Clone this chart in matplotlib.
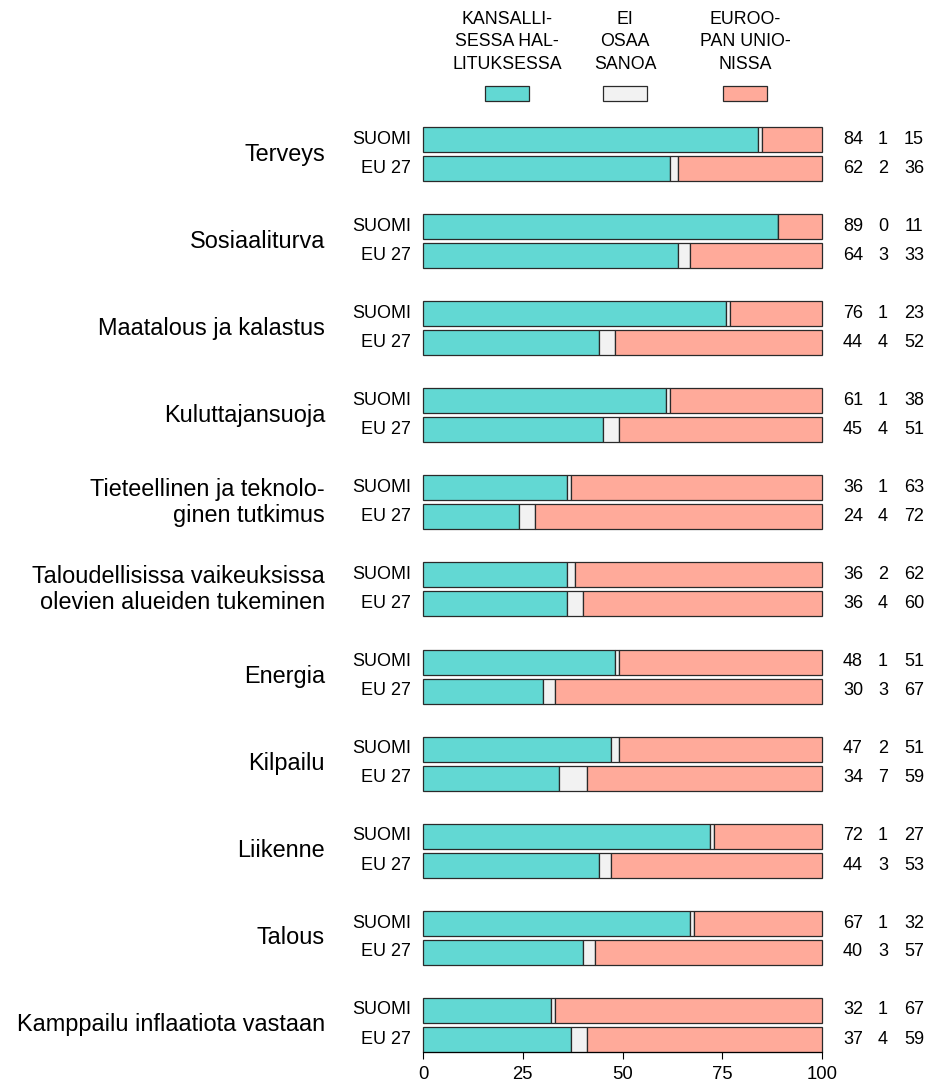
import matplotlib
matplotlib.use("Agg")
import matplotlib.pyplot as plt
from matplotlib.patches import Rectangle
from matplotlib.transforms import blended_transform_factory
import numpy as np

plt.rcParams['font.family'] = ['Liberation Sans', 'DejaVu Sans']

categories = [
    "Terveys",
    "Sosiaaliturva",
    "Maatalous ja kalastus",
    "Kuluttajansuoja",
    "Tieteellinen ja teknolo-\nginen tutkimus",
    "Taloudellisissa vaikeuksissa\nolevien alueiden tukeminen",
    "Energia",
    "Kilpailu",
    "Liikenne",
    "Talous",
    "Kamppailu inflaatiota vastaan",
]
row_labels = ["SUOMI", "EU 27"]

suomi_national = [84, 89, 76, 61, 36, 36, 48, 47, 72, 67, 32]
suomi_dk = [1, 0, 1, 1, 1, 2, 1, 2, 1, 1, 1]
suomi_eu = [15, 11, 23, 38, 63, 62, 51, 51, 27, 32, 67]

eu27_national = [62, 64, 44, 45, 24, 36, 30, 34, 44, 40, 37]
eu27_dk = [2, 3, 4, 4, 4, 4, 3, 7, 3, 3, 4]
eu27_eu = [36, 33, 52, 51, 72, 60, 67, 59, 53, 57, 59]

legend_labels = ["KANSALLI-\nSESSA HAL-\nLITUKSESSA", "EI\nOSAA\nSANOA", "EUROO-\nPAN UNIO-\nNISSA"]
colors = ["#62D8D3", "#F2F2F2", "#FFAA9A"]
edge = "#2a2a2a"
xticks = [0, 25, 50, 75, 100]

W, H = 932, 1084
fig = plt.figure(figsize=(W / 100, H / 100), dpi=100)
ax = fig.add_axes([423 / W, 1 - 1052 / H, (822 - 423) / W, (1052 - 120) / H])

unit = 29.0  # px per row
ax.set_xlim(0, 100)
ax.set_ylim((1052 - 140) / unit, (120 - 140) / unit)

n = len(categories)
y_suomi = np.arange(n) * 3
y_eu = y_suomi + 1
bh = 25 / unit

for ys, nat, dk, eu in [(y_suomi, suomi_national, suomi_dk, suomi_eu),
                        (y_eu, eu27_national, eu27_dk, eu27_eu)]:
    nat = np.array(nat); dk = np.array(dk); eu = np.array(eu)
    for left, w, c in [(0, nat, colors[0]), (nat, dk, colors[1]), (nat + dk, eu, colors[2])]:
        bars = ax.barh(ys, w, left=left, height=bh, color=c, edgecolor=edge, linewidth=0.9)
        for b in bars:
            b.set_clip_on(False)

tr = blended_transform_factory(fig.transFigure, ax.transData)
for i, cat in enumerate(categories):
    ax.text(325 / W, y_suomi[i] + 0.5, cat, transform=tr, ha='right', va='center',
            fontsize=16.9, linespacing=1.15)
    for yy, lab in zip([y_suomi[i], y_eu[i]], row_labels):
        ax.text(411 / W, yy, lab, transform=tr, ha='right', va='center', fontsize=13)
    for yy, vals in [(y_suomi[i], (suomi_national[i], suomi_dk[i], suomi_eu[i])),
                     (y_eu[i], (eu27_national[i], eu27_dk[i], eu27_eu[i]))]:
        for xp, v in zip([853, 883, 914], vals):
            ax.text(xp / W, yy, str(v), transform=tr, ha='center', va='center', fontsize=13)

# legend
for cx, lab, col in zip([507, 625, 745], legend_labels, colors):
    fig.text(cx / W, 1 - 42 / H, lab, ha='center', va='center', fontsize=12.8, linespacing=1.4)
    fig.patches.append(Rectangle(((cx - 22) / W, 1 - 101 / H), 44 / W, 15 / H,
                                 transform=fig.transFigure, facecolor=col,
                                 edgecolor=edge, linewidth=0.9))

for s in ['top', 'right', 'left']:
    ax.spines[s].set_visible(False)
ax.spines['bottom'].set_bounds(0, 100)
ax.spines['bottom'].set_linewidth(0.8)
ax.set_yticks([])
ax.set_xticks(xticks)
ax.set_xticklabels([str(t) for t in xticks])
ax.tick_params(axis='x', length=5, width=0.8, labelsize=13.3, pad=5)

fig.savefig("out.png", dpi=100)
